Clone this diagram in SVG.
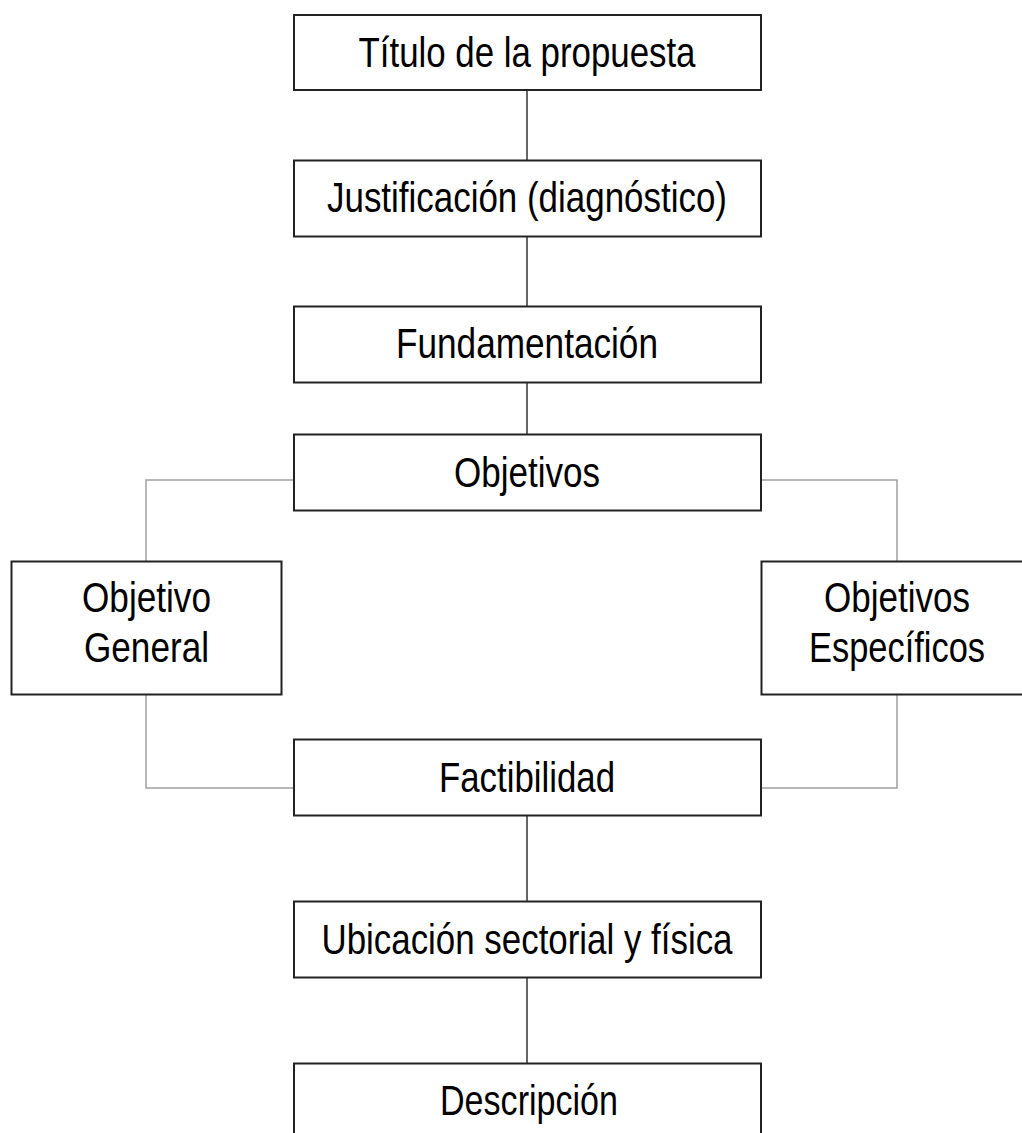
<svg xmlns="http://www.w3.org/2000/svg" width="1022" height="1133" viewBox="0 0 1022 1133">
  <style>
    .box { fill: #ffffff; stroke: #222222; stroke-width: 2; }
    .lbl { font-family: "Liberation Sans", Arial, sans-serif; font-size: 43px; fill: #000000; text-anchor: middle; }
    .main { stroke: #333333; stroke-width: 1.5; fill: none; }
    .side { stroke: #a0a0a0; stroke-width: 1.5; fill: none; }
  </style>
  <rect width="1022" height="1133" fill="#ffffff"/>

  <g id="connectors">
    <line class="main" x1="527" y1="90" x2="527" y2="160"/>
    <line class="main" x1="527" y1="237" x2="527" y2="306"/>
    <line class="main" x1="527" y1="382" x2="527" y2="434"/>
    <line class="main" x1="527" y1="816" x2="527" y2="901"/>
    <line class="main" x1="527" y1="978" x2="527" y2="1063"/>
    <polyline class="side" points="293,480 146,480 146,561"/>
    <polyline class="side" points="146,694 146,788 293,788"/>
    <polyline class="side" points="761,480 897,480 897,561"/>
    <polyline class="side" points="897,694 897,788 761,788"/>
  </g>

  <g id="titulo">
    <rect class="box" x="294" y="15" width="467" height="75"/>
    <text class="lbl" x="527" y="67" textLength="337" lengthAdjust="spacingAndGlyphs">Título de la propuesta</text>
  </g>
  <g id="justificacion">
    <rect class="box" x="294" y="160.5" width="467" height="76"/>
    <text class="lbl" x="527" y="212" textLength="400" lengthAdjust="spacingAndGlyphs">Justificación (diagnóstico)</text>
  </g>
  <g id="fundamentacion">
    <rect class="box" x="294" y="306.5" width="467" height="76"/>
    <text class="lbl" x="527" y="358" textLength="262" lengthAdjust="spacingAndGlyphs">Fundamentación</text>
  </g>
  <g id="objetivos">
    <rect class="box" x="294" y="434.5" width="467" height="76"/>
    <text class="lbl" x="527" y="487" textLength="146" lengthAdjust="spacingAndGlyphs">Objetivos</text>
  </g>
  <g id="objetivo-general">
    <rect class="box" x="11.5" y="561.5" width="270" height="133"/>
    <text class="lbl" x="146.5" y="612" textLength="129" lengthAdjust="spacingAndGlyphs">Objetivo</text>
    <text class="lbl" x="146.5" y="662" textLength="125" lengthAdjust="spacingAndGlyphs">General</text>
  </g>
  <g id="objetivos-especificos">
    <rect class="box" x="761.5" y="561.5" width="272" height="133"/>
    <text class="lbl" x="897" y="612" textLength="146" lengthAdjust="spacingAndGlyphs">Objetivos</text>
    <text class="lbl" x="897" y="662" textLength="176" lengthAdjust="spacingAndGlyphs">Específicos</text>
  </g>
  <g id="factibilidad">
    <rect class="box" x="294" y="739.5" width="467" height="76"/>
    <text class="lbl" x="527" y="792" textLength="176" lengthAdjust="spacingAndGlyphs">Factibilidad</text>
  </g>
  <g id="ubicacion">
    <rect class="box" x="294" y="901.5" width="467" height="76"/>
    <text class="lbl" x="527" y="954" textLength="411" lengthAdjust="spacingAndGlyphs">Ubicación sectorial y física</text>
  </g>
  <g id="descripcion">
    <rect class="box" x="294" y="1063.5" width="467" height="100"/>
    <text class="lbl" x="529" y="1115" textLength="178" lengthAdjust="spacingAndGlyphs">Descripción</text>
  </g>
</svg>
